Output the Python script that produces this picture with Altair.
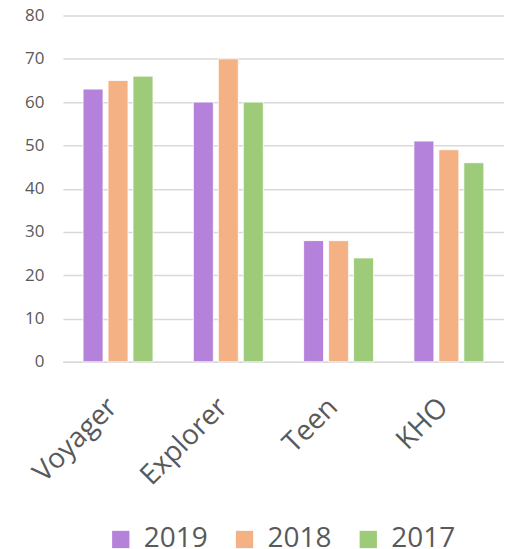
import altair as alt
import pandas as pd

categories = ["Voyager", "Explorer", "Teen", "KHO"]
years = ["2019", "2018", "2017"]
values_2019 = [63, 60, 28, 51]
values_2018 = [65, 70, 28, 49]
values_2017 = [66, 60, 24, 46]
colors = ["#b482da", "#f4b183", "#9ecb7a"]

rows = []
for series, vals in zip(years, [values_2019, values_2018, values_2017]):
    for c, v in zip(categories, vals):
        rows.append({"category": c, "year": series, "value": v})
df = pd.DataFrame(rows)

FONT = "Open Sans"
GRAY = "#595959"

chart = alt.Chart(df).mark_bar(stroke="white", strokeWidth=0.8).encode(
    x=alt.X("category:N", sort=categories, title=None,
            scale=alt.Scale(paddingInner=0.366, paddingOuter=0.183),
            axis=alt.Axis(labelAngle=-45, labelAlign="right", labelBaseline="middle",
                          labelFontSize=28, labelColor=GRAY, labelFont=FONT,
                          ticks=False, domainColor="#d9d9d9", domainWidth=1.5,
                          labelPadding=41, labelOffset=-5)),
    xOffset=alt.XOffset("year:N", sort=years,
                        scale=alt.Scale(paddingInner=0.2, paddingOuter=0)),
    y=alt.Y("value:Q", title=None,
            scale=alt.Scale(domain=[0, 80], nice=False),
            axis=alt.Axis(values=[0, 10, 20, 30, 40, 50, 60, 70, 80], labelFontSize=17,
                          labelColor=GRAY, labelFont=FONT, ticks=False, domain=False,
                          gridColor="#d9d9d9", gridWidth=1.5, labelPadding=19)),
    color=alt.Color("year:N", sort=years,
                    scale=alt.Scale(domain=years, range=colors),
                    legend=alt.Legend(orient="none", direction="horizontal", title=None,
                                      legendX=44, legendY=511, symbolType="square",
                                      symbolSize=300, symbolStrokeWidth=0,
                                      labelFontSize=28, labelColor=GRAY, labelFont=FONT,
                                      labelOffset=9, columnPadding=22)),
).properties(
    width=442, height=347,
    autosize=alt.AutoSizeParams(type="none"),
    padding={"left": 55, "top": 7, "right": 0, "bottom": 188},
).configure_view(stroke=None)

chart.save("out.html", embed_options={"renderer": "svg", "actions": False})
